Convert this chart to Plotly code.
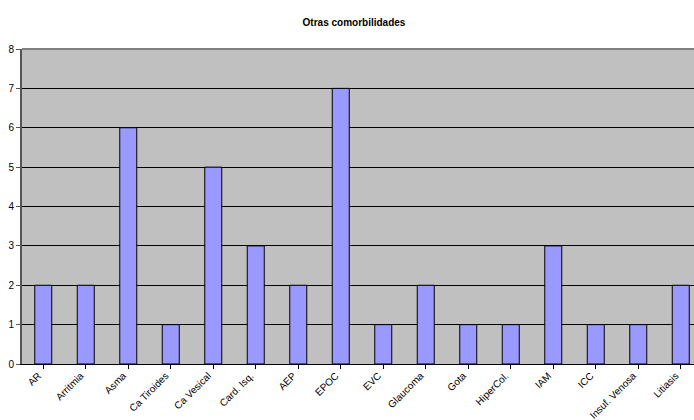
import plotly.graph_objects as go

categories = ["AR", "Arritmia", "Asma", "Ca Tiroides", "Ca Vesical", "Card. Isq.", "AEP", "EPOC",
              "EVC", "Glaucoma", "Gota", "HiperCol.", "IAM", "ICC", "Insuf. Venosa", "Litiasis"]
values = [2, 2, 6, 1, 5, 3, 2, 7, 1, 2, 1, 1, 3, 1, 1, 2]
y_ticks = [0, 1, 2, 3, 4, 5, 6, 7, 8]
title = "Otras comorbilidades"

fig = go.Figure()
fig.add_trace(go.Bar(
    x=list(range(len(categories))), y=values,
    marker=dict(color="#9999FF", line=dict(color="#000000", width=1)),
    width=0.4,
))

fig.update_layout(
    width=694, height=420,
    margin=dict(l=22, r=0, t=49, b=56),
    paper_bgcolor="white", plot_bgcolor="#C0C0C0",
    showlegend=False,
    font=dict(family="Liberation Sans, Arial, sans-serif", size=10, color="#000000"),
    title=dict(text="<b>" + title + "</b>", x=354/694, xanchor="center", y=1-22/420, yanchor="middle",
               font=dict(size=10, family="Liberation Sans, Arial, sans-serif", color="#000000")),
    xaxis=dict(
        tickmode="array", tickvals=list(range(len(categories))), ticktext=categories,
        range=[-0.5, -0.5 + 672/42.5], tickangle=-45, automargin=False,
        ticklabelshift=-5, ticklabelstandoff=-3,
        showgrid=False, zeroline=False,
        ticks="outside", ticklen=4, tickcolor="#000000", tickson="boundaries",
        showline=True, linecolor="#000000", linewidth=1,
        tickfont=dict(size=10),
    ),
    yaxis=dict(
        range=[0, 8], tickvals=y_ticks, automargin=False,
        showgrid=True, gridcolor="#000000", gridwidth=1,
        zeroline=False,
        ticks="outside", ticklen=4, tickcolor="#555555",
        showline=True, linecolor="#555555", linewidth=2,
        tickfont=dict(size=10),
    ),
)
fig.add_shape(type="line", xref="paper", yref="paper", x0=0, x1=1, y0=1, y1=1,
              line=dict(color="#808080", width=2))

fig.write_html("out.html")
